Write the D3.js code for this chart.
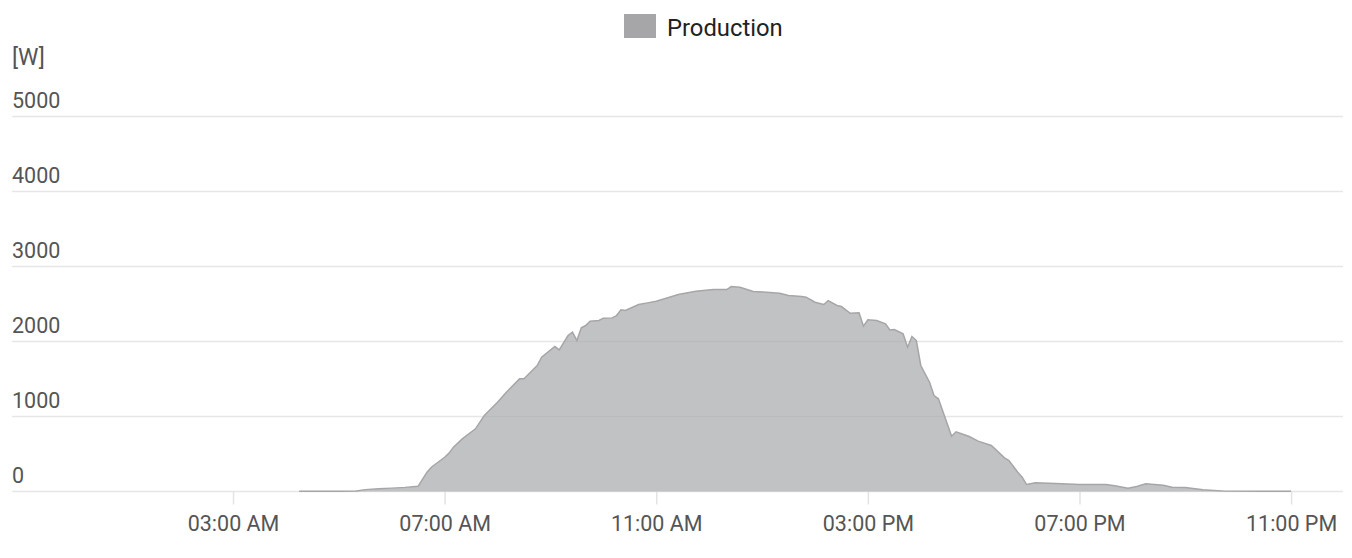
<!DOCTYPE html>
<html>
<head>
<meta charset="utf-8">
<script src="https://cdn.jsdelivr.net/npm/d3@7"></script>
<style>
  html, body { margin: 0; padding: 0; background: #fff; }
  svg { display: block; }
  text { font-family: Roboto, "Liberation Sans", sans-serif; }
</style>
</head>
<body>
<svg id="chart" width="1352" height="558"></svg>
<script>
// ---- data ----
const seriesName = "Production";
const unitLabel = "[W]";
const times = [
  "04:15","04:30","05:00","05:20","05:30","05:45","06:00","06:15","06:30","06:40",
  "06:45","07:00","07:05","07:10","07:20","07:35","07:45","08:00","08:10","08:25",
  "08:30","08:45","08:50","09:05","09:10","09:20","09:25","09:30","09:35","09:40",
  "09:45","09:55","10:00","10:10","10:15","10:20","10:25","10:40","10:50","11:00",
  "11:15","11:25","11:45","12:05","12:20","12:25","12:35","12:50","13:05","13:20",
  "13:30","13:45","13:50","14:00","14:10","14:15","14:25","14:30","14:40","14:50",
  "14:55","15:00","15:10","15:20","15:25","15:30","15:40","15:45","15:50","15:55",
  "16:00","16:10","16:15","16:20","16:30","16:35","16:40","16:55","17:05","17:20",
  "17:35","17:40","17:50","17:55","18:00","18:10","18:40","19:00","19:30","19:40",
  "19:55","20:05","20:15","20:25","20:35","20:45","21:00","21:20","21:45","22:30",
  "23:00"
];
const production = [
  5,5,5,6,25,36,45,55,70,257,
  324,457,511,591,702,836,1013,1191,1324,1502,
  1502,1680,1791,1933,1889,2080,2124,2013,2182,2213,
  2271,2280,2311,2315,2346,2422,2413,2493,2515,2537,
  2591,2626,2671,2693,2693,2733,2724,2666,2657,2644,
  2613,2600,2591,2524,2493,2546,2480,2466,2377,2382,
  2204,2289,2280,2235,2155,2160,2102,1924,2066,2013,
  1680,1457,1280,1236,902,737,796,733,671,613,
  449,413,257,191,93,116,103,93,93,76,
  44,67,103,93,84,57,53,22,5,2,
  2
];
const yTicks = [0, 1000, 2000, 3000, 4000, 5000];
const xTickHours = [3, 7, 11, 15, 19, 23];

// ---- chart ----
const svg = d3.select("#chart");
const day = "2020-06-01";
const parseT = d3.timeParse("%Y-%m-%d %H:%M");
const data = times.map((t, i) => ({ t: parseT(day + " " + t), v: production[i] }));

const x = d3.scaleTime()
  .domain([parseT(day + " 00:00"), d3.timeDay.offset(parseT(day + " 00:00"), 1)])
  .range([74.3, 1344]);
const y = d3.scaleLinear().domain([0, 5000]).range([491.5, 116.5]);

const gridLeft = 12, gridRight = 1343;
const labelColor = "#555";

// gridlines
svg.append("g").selectAll("line").data(yTicks).join("line")
  .attr("x1", gridLeft).attr("x2", gridRight)
  .attr("y1", d => y(d)).attr("y2", d => y(d))
  .attr("stroke", "#e6e6e6").attr("stroke-width", 1.5);

// y labels
svg.append("g").selectAll("text").data(yTicks).join("text")
  .attr("x", gridLeft).attr("y", d => y(d) - 8.5)
  .attr("fill", labelColor).attr("font-size", 21.5)
  .text(d => d);

svg.append("text").attr("x", gridLeft).attr("y", 65)
  .attr("fill", labelColor).attr("font-size", 23)
  .text(unitLabel);

// x axis ticks
const xTicks = xTickHours.map(h => d3.timeHour.offset(parseT(day + " 00:00"), h));
const xAxis = d3.axisBottom(x).tickValues(xTicks)
  .tickFormat(d3.timeFormat("%I:%M %p")).tickSizeInner(13).tickSizeOuter(0).tickPadding(11);
const gx = svg.append("g").attr("transform", `translate(0,${y(0)})`).call(xAxis);
gx.select(".domain").remove();
gx.selectAll(".tick line").attr("stroke", "#e3e3e3").attr("stroke-width", 1.5);
gx.selectAll(".tick text").attr("fill", labelColor).attr("font-size", 21.5)
  .attr("font-family", "Roboto, sans-serif");

// area
const seriesColor = "#a6a6a8";
const area = d3.area().x(d => x(d.t)).y0(y(0)).y1(d => y(d.v)).curve(d3.curveLinear);
const line = d3.line().x(d => x(d.t)).y(d => y(d.v)).curve(d3.curveLinear);
svg.append("path").datum(data).attr("d", area)
  .attr("fill", "#a9aaad").attr("fill-opacity", 0.72);
svg.append("path").datum(data).attr("d", line)
  .attr("fill", "none").attr("stroke", seriesColor).attr("stroke-width", 1.5);

// legend
const lg = svg.append("g");
lg.append("rect").attr("x", 624).attr("y", 14).attr("width", 32).attr("height", 24)
  .attr("fill", seriesColor);
lg.append("text").attr("x", 667).attr("y", 35.5).attr("fill", "#222")
  .attr("font-size", 23.8).text(seriesName);
</script>
</body>
</html>
